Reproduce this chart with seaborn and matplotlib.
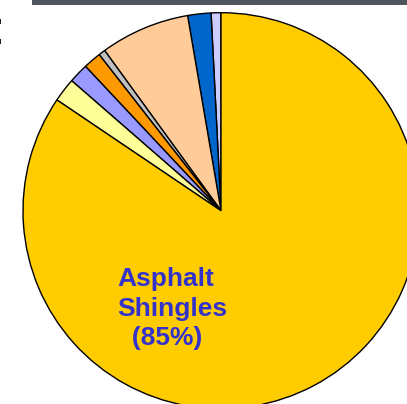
import matplotlib
matplotlib.use("Agg")
import matplotlib.pyplot as plt
import seaborn as sns
from matplotlib.patches import Rectangle

sns.set_theme(style="white")
plt.rcParams['font.family'] = ['Liberation Sans', 'DejaVu Sans']

# Data (counter-clockwise from 12 o'clock)
categories = ["Other A", "Other B", "Other C", "Other D", "Other E", "Other F", "Other G", "Asphalt Shingles"]
shares = [0.8, 1.9, 7.3, 0.55, 1.45, 1.6, 1.95, 84.45]
colors = ["#CCCCFF", "#0066CC", "#FFCC99", "#C0C0C0", "#FF9900", "#9999FF", "#FFFF99", "#FFCC00"]
label_text = "Asphalt\nShingles\n  (85%)"

W, H = 407, 404
cx, cy, R = 221, 210.7, 198

fig = plt.figure(figsize=(W / 100, H / 100), dpi=100)
ax = fig.add_axes([0, 0, 1, 1])
ax.pie(shares, colors=colors, startangle=90, counterclock=True,
       radius=1.0, center=(0, 0),
       wedgeprops=dict(edgecolor="black", linewidth=1.0))
ax.set_xlim(-cx / R, (W - cx) / R)
ax.set_ylim(-(H - cy) / R, cy / R)
ax.set_aspect('auto')
ax.axis('off')

# label
ax.text((117 - cx) / R, -(267 - cy) / R, label_text, ha='left', va='top',
        fontsize=19, fontweight='bold', color="#3333CC", linespacing=1.3)

# top gray bar
fig.patches.append(Rectangle((32 / W, 1 - 5 / H), 1, 5 / H, transform=fig.transFigure,
                             facecolor="#50545C", edgecolor="none"))
# cut-off colon
fig.text(-8 / W, 1 - 44 / H, ":", ha='left', va='baseline', fontsize=34, color="black")

fig.savefig("out.png", dpi=100)
